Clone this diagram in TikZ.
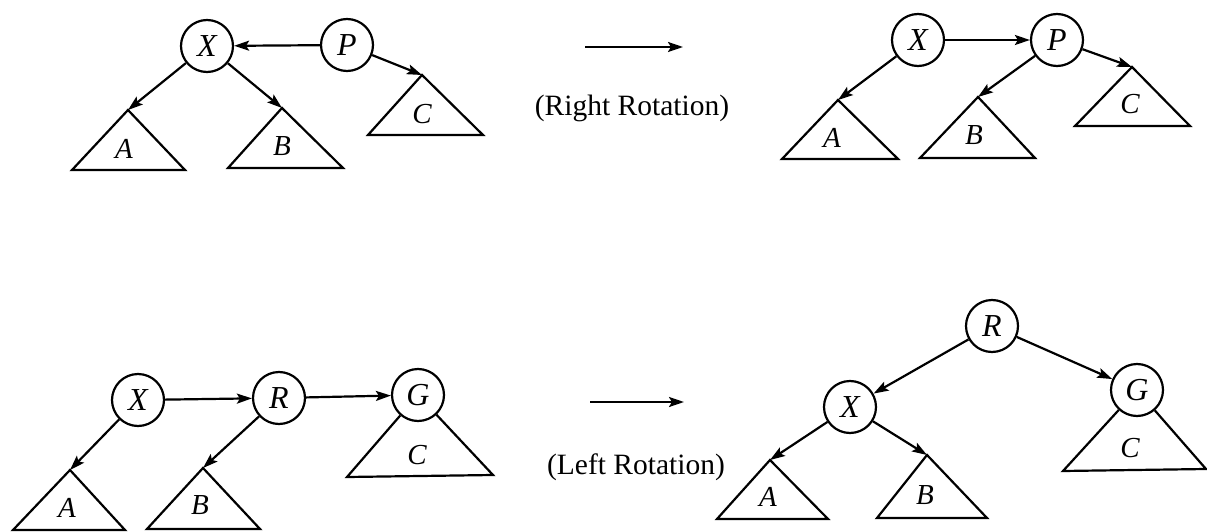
\documentclass[tikz,border=0pt]{standalone}
\usepackage{fontspec}
\setmainfont{Liberation Serif}
\usetikzlibrary{arrows.meta}
\begin{document}
\begin{tikzpicture}[x=1pt,y=-1pt,line width=2.2pt,
  vnode/.style={circle,draw,minimum size=52pt,inner sep=0pt,font=\fontsize{32}{32}\selectfont\itshape},
  tri/.style={draw,line join=miter},
  tlabel/.style={font=\fontsize{29}{29}\selectfont\itshape},
  edge/.style={-{Stealth[length=15pt,width=10pt,inset=3pt]}},
  bigarrow/.style={-{Stealth[length=15pt,width=10pt,inset=3pt]}},
  caption/.style={font=\fontsize{29.5}{29.5}\selectfont}]
\useasboundingbox (0,0) rectangle (1207,532);
% ---------- top left ----------
\node[vnode] (tlX) at (207,46) {X};
\node[vnode] (tlP) at (347,45) {P};
\coordinate (tlAa) at (128,110); \coordinate (tlBa) at (282,108); \coordinate (tlCa) at (422,75);
\draw[tri] (tlAa) -- (72,170) -- (185,170) -- cycle;
\draw[tri] (tlBa) -- (228,168) -- (343,168) -- cycle;
\draw[tri] (tlCa) -- (368,135) -- (483,135) -- cycle;
\node[tlabel] (tlA) at (124,149) {A};
\node[tlabel] (tlB) at (282,146) {B};
\node[tlabel] (tlC) at (422,114) {C};
\draw[edge] (tlP) -- (tlX);
\draw[edge] (tlX) -- (tlAa);
\draw[edge] (tlX) -- (tlBa);
\draw[edge] (tlP) -- (tlCa);
% ---------- top middle ----------
\coordinate (ra1) at (585,47); \coordinate (ra2) at (683,47);
\draw[bigarrow] (ra1) -- (ra2);
\node[caption] (rcap) at (632,108) {(Right Rotation)};
% ---------- top right ----------
\node[vnode] (trX) at (918,40) {X};
\node[vnode] (trP) at (1057,40) {P};
\coordinate (trAa) at (838,100); \coordinate (trBa) at (978,97); \coordinate (trCa) at (1132,67);
\draw[tri] (trAa) -- (782,159) -- (898,159) -- cycle;
\draw[tri] (trBa) -- (920,158) -- (1035,158) -- cycle;
\draw[tri] (trCa) -- (1075,126) -- (1190,126) -- cycle;
\node[tlabel] (trA) at (832,138) {A};
\node[tlabel] (trB) at (974,135) {B};
\node[tlabel] (trC) at (1130,104) {C};
\draw[edge] (trX) -- (trP);
\draw[edge] (trX) -- (trAa);
\draw[edge] (trP) -- (trBa);
\draw[edge] (trP) -- (trCa);
% ---------- bottom left ----------
\node[vnode] (blX) at (138,400) {X};
\node[vnode] (blR) at (279,398) {R};
\node[vnode] (blG) at (418,395) {G};
\coordinate (blAa) at (70,470); \coordinate (blBa) at (203,468);
\coordinate (blCl) at (347,477); \coordinate (blCr) at (493,475);
\draw[tri] (blAa) -- (13,530) -- (125,530) -- cycle;
\draw[tri] (blBa) -- (147,529) -- (260,529) -- cycle;
\draw[tri] (blG) -- (blCl) -- (blCr) -- (blG);
\node[tlabel] (blA) at (67,508) {A};
\node[tlabel] (blB) at (200,505) {B};
\node[tlabel] (blC) at (417,455) {C};
\draw[edge] (blX) -- (blR);
\draw[edge] (blR) -- (blG);
\draw[edge] (blX) -- (blAa);
\draw[edge] (blR) -- (blBa);
% ---------- bottom middle ----------
\coordinate (la1) at (590,402); \coordinate (la2) at (684,402);
\draw[bigarrow] (la1) -- (la2);
\node[caption] (lcap) at (636,467) {(Left Rotation)};
% ---------- bottom right ----------
\node[vnode] (brR) at (992,326) {R};
\node[vnode] (brX) at (850,407) {X};
\node[vnode] (brG) at (1137,390) {G};
\coordinate (brAa) at (770,460); \coordinate (brBa) at (927,455);
\coordinate (brCl) at (1063,471); \coordinate (brCr) at (1206,469);
\draw[tri] (brAa) -- (717,519) -- (828,519) -- cycle;
\draw[tri] (brBa) -- (877,518) -- (987,518) -- cycle;
\draw[tri] (brG) -- (brCl) -- (brCr) -- (brG);
\node[tlabel] (brA) at (768,497) {A};
\node[tlabel] (brB) at (925,495) {B};
\node[tlabel] (brC) at (1130,448) {C};
\draw[edge] (brR) -- (brX);
\draw[edge] (brR) -- (brG);
\draw[edge] (brX) -- (brAa);
\draw[edge] (brX) -- (brBa);
\end{tikzpicture}
\end{document}
